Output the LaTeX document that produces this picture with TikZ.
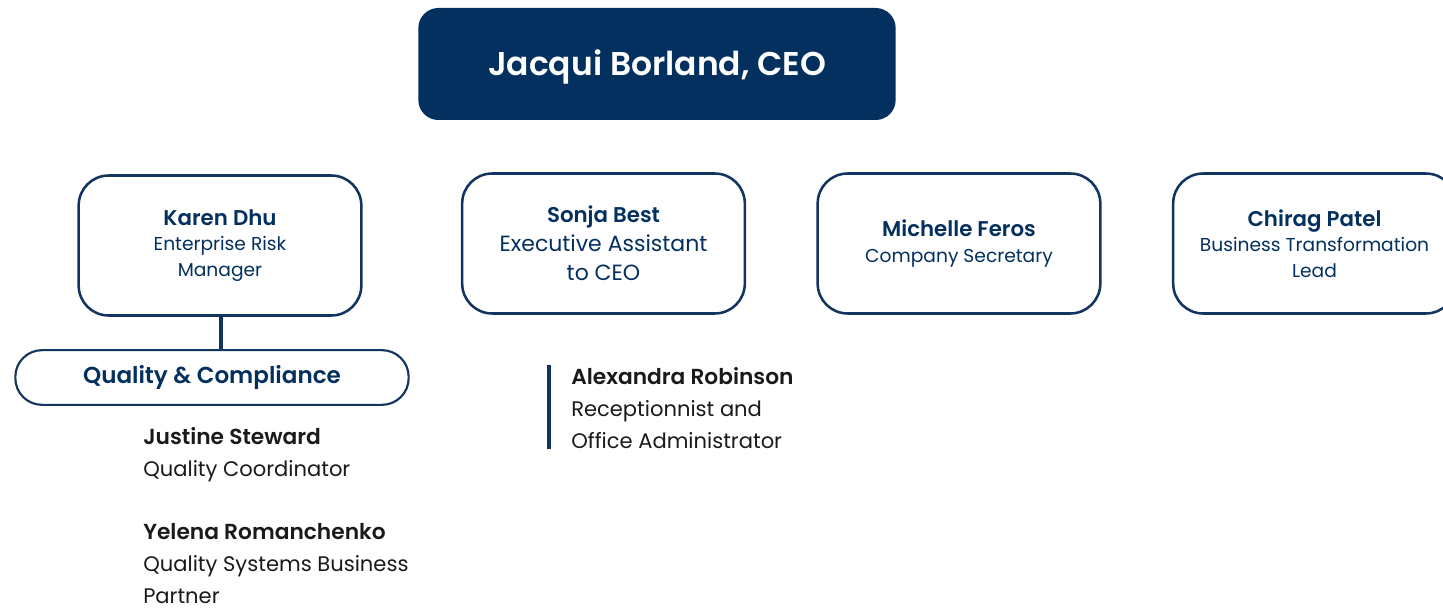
\documentclass[tikz,border=0pt]{standalone}
\usepackage{fontspec}
\setmainfont{Poppins}[BoldFont=Poppins SemiBold]
\definecolor{navy}{HTML}{03305F}
\definecolor{line}{HTML}{12345F}
\definecolor{txt}{HTML}{1A1A1A}
\newcommand{\ttl}[1]{{\fontsize{16pt}{19pt}\selectfont\bfseries #1}}
\begin{document}
\begin{tikzpicture}[x=0.75pt,y=-0.75pt,
  card/.style={draw=line,line width=1.9pt,rounded corners=22.5pt,fill=white,
    minimum width=212pt,minimum height=105pt,inner sep=0pt,align=center,text=navy,
    font=\fontsize{14pt}{19pt}\selectfont},
  pill/.style={draw=line,line width=1.6pt,rounded corners=20pt,
    minimum width=295pt,minimum height=41pt,inner sep=0pt,text=navy,
    font=\fontsize{17.3pt}{19pt}\selectfont\bfseries},
  person/.style={anchor=north west,inner sep=0pt,align=left,text=txt,
    font=\fontsize{15.8pt}{24pt}\selectfont},
  link/.style={draw=line,line width=2.3pt}]
\useasboundingbox (0,0) rectangle (1443,610);
\node[fill=navy,rounded corners=15pt,minimum width=358pt,minimum height=84pt,
  inner sep=0pt] (ceo) at (657,64) {};
\node[text=white,inner sep=0pt,font=\fontsize{24.7pt}{28pt}\selectfont\bfseries]
  (ceotxt) at ([yshift=-2.2pt]ceo.center) {Jacqui Borland, CEO};
\node[card] (karen) at (220,245.5) {\ttl{Karen Dhu}\\Enterprise Risk\\Manager};
\node[card,font=\fontsize{16.5pt}{21.75pt}\selectfont] (sonja) at (603.5,243.5) {\ttl{Sonja Best}\\Executive Assistant\\to CEO};
\node[card] (michelle) at (959,243.5) {\ttl{Michelle Feros}\\Company Secretary};
\node[card] (chirag) at (1314.5,243.5) {\ttl{Chirag Patel}\\Business Transformation\\Lead};
\node[pill] (qc) at (212,377.5) {Quality \& Compliance};
\draw[link] (karen.south -| 221,0) -- (qc.north -| 221,0);
\node[person] (justine) at (143,427) {{\fontsize{16.3pt}{24pt}\selectfont\bfseries Justine Steward}\\Quality Coordinator};
\node[person] (yelena) at (143,523) {{\fontsize{16.3pt}{24pt}\selectfont\bfseries Yelena Romanchenko}\\Quality Systems Business\\Partner};
\node[person] (alex) at (571,367) {{\fontsize{16.3pt}{24pt}\selectfont\bfseries Alexandra Robinson}\\Receptionnist and\\Office Administrator};
\coordinate (bt) at (549,365);
\coordinate (bb) at (549,449);
\draw[link] (bt) -- (bb);
\end{tikzpicture}
\end{document}
